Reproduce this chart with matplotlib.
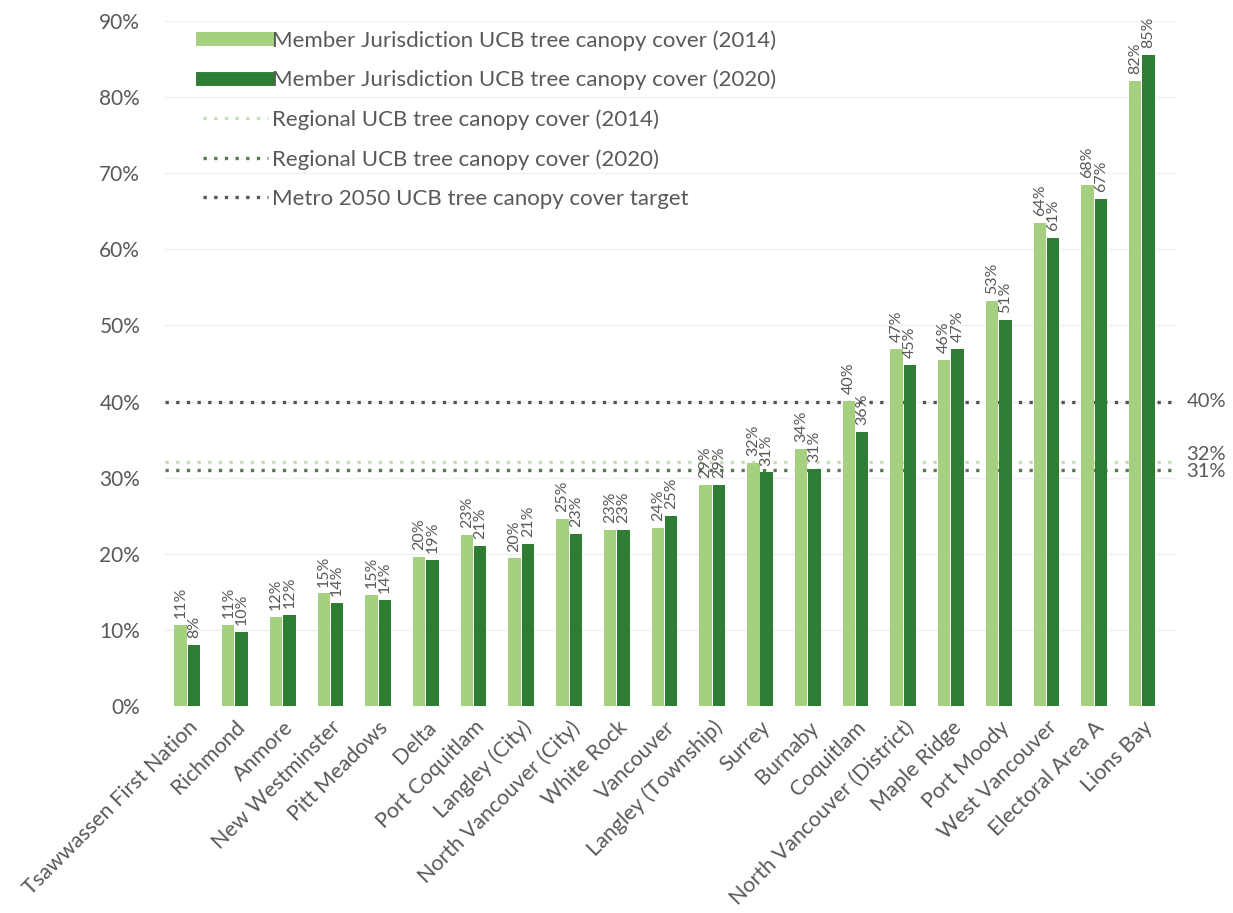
import numpy as np
import matplotlib.pyplot as plt
from matplotlib.lines import Line2D

plt.rcParams['font.family'] = ['Lato', 'DejaVu Sans']

places = ["Tsawwassen First Nation", "Richmond", "Anmore", "New Westminster",
          "Pitt Meadows", "Delta", "Port Coquitlam", "Langley (City)",
          "North Vancouver (City)", "White Rock", "Vancouver", "Langley (Township)",
          "Surrey", "Burnaby", "Coquitlam", "North Vancouver (District)",
          "Maple Ridge", "Port Moody", "West Vancouver", "Electoral Area A", "Lions Bay"]
cover_2014 = [10.7, 10.7, 11.7, 14.8, 14.6, 19.6, 22.5, 19.4, 24.6, 23.1, 23.4, 29.0,
              31.9, 33.8, 40.1, 46.9, 45.5, 53.2, 63.5, 68.5, 82.1]
cover_2020 = [8.0, 9.7, 12.0, 13.5, 13.9, 19.2, 21.0, 21.3, 22.6, 23.1, 25.0, 29.0,
              30.7, 31.1, 36.0, 44.8, 46.9, 50.7, 61.5, 66.6, 85.5]
labels_2014 = ["11%", "11%", "12%", "15%", "15%", "20%", "23%", "20%", "25%", "23%", "24%",
               "29%", "32%", "34%", "40%", "47%", "46%", "53%", "64%", "68%", "82%"]
labels_2020 = ["8%", "10%", "12%", "14%", "14%", "19%", "21%", "21%", "23%", "23%", "25%",
               "29%", "31%", "31%", "36%", "45%", "47%", "51%", "61%", "67%", "85%"]
regional_2014 = 32
regional_2020 = 31
target_2050 = 40

light = "#a5d07f"
dark = "#2f7d34"
grey = "#595959"
dots = (0, (1, 2.2))

fig = plt.figure(figsize=(12.33, 9.13), dpi=100)
ax = fig.add_axes([0.134, 0.2267, 0.82, 0.7503])

x = np.arange(len(places))
w = 0.26
off = 0.14
ax.bar(x - off, cover_2014, w, color=light, zorder=3)
ax.bar(x + off, cover_2020, w, color=dark, zorder=3)

for i in range(len(places)):
    ax.text(x[i] - off, cover_2014[i] + 0.9, labels_2014[i], rotation=90, ha="center",
            va="bottom", fontsize=11.5, color=grey, zorder=4)
    ax.text(x[i] + off, cover_2020[i] + 0.9, labels_2020[i], rotation=90, ha="center",
            va="bottom", fontsize=11.5, color=grey, zorder=4)

ax.axhline(regional_2014, color="#c9dcb8", ls=dots, lw=2.4, zorder=2)
ax.axhline(regional_2020, color="#5a7a55", ls=dots, lw=2.4, zorder=2)
ax.axhline(target_2050, color="#555555", ls=dots, lw=2.4, zorder=2)

ax.text(1.01, target_2050, "40%", transform=ax.get_yaxis_transform(), va="center",
        fontsize=14.5, color=grey)
ax.text(1.01, regional_2014 + 1.1, "32%", transform=ax.get_yaxis_transform(), va="center",
        fontsize=14.5, color=grey)
ax.text(1.01, regional_2020 - 0.2, "31%", transform=ax.get_yaxis_transform(), va="center",
        fontsize=14.5, color=grey)

ax.set_xlim(-0.46, 20.72)
ax.set_ylim(0, 90)
ax.set_yticks(range(0, 91, 10))
ax.set_yticklabels([f"{v}%" for v in range(0, 91, 10)], fontsize=15, color=grey)
ax.set_xticks(x)
ax.set_xticklabels(places, rotation=45, ha="right", rotation_mode="anchor",
                   fontsize=15.5, color=grey)
ax.tick_params(length=0, pad=18)
ax.tick_params(axis="x", pad=8)
for s in ax.spines.values():
    s.set_visible(False)
ax.grid(axis="y", color="#f0f0f0", lw=1, zorder=0)

handles = [
    Line2D([], [], color=light, lw=10),
    Line2D([], [], color=dark, lw=10),
    Line2D([], [], color="#c9dcb8", lw=2.4, ls=dots),
    Line2D([], [], color="#5a7a55", lw=2.4, ls=dots),
    Line2D([], [], color="#555555", lw=2.4, ls=dots),
]
names = ["Member Jurisdiction UCB tree canopy cover (2014)",
         "Member Jurisdiction UCB tree canopy cover (2020)",
         "Regional UCB tree canopy cover (2014)",
         "Regional UCB tree canopy cover (2020)",
         "Metro 2050 UCB tree canopy cover target"]
leg = ax.legend(handles, names, loc="upper left", bbox_to_anchor=(0.018, 1.016), frameon=False,
                fontsize=16, handlelength=2.9, labelspacing=0.86, handletextpad=0.2)
for t in leg.get_texts():
    t.set_color(grey)

fig.savefig("out.png", dpi=100)
